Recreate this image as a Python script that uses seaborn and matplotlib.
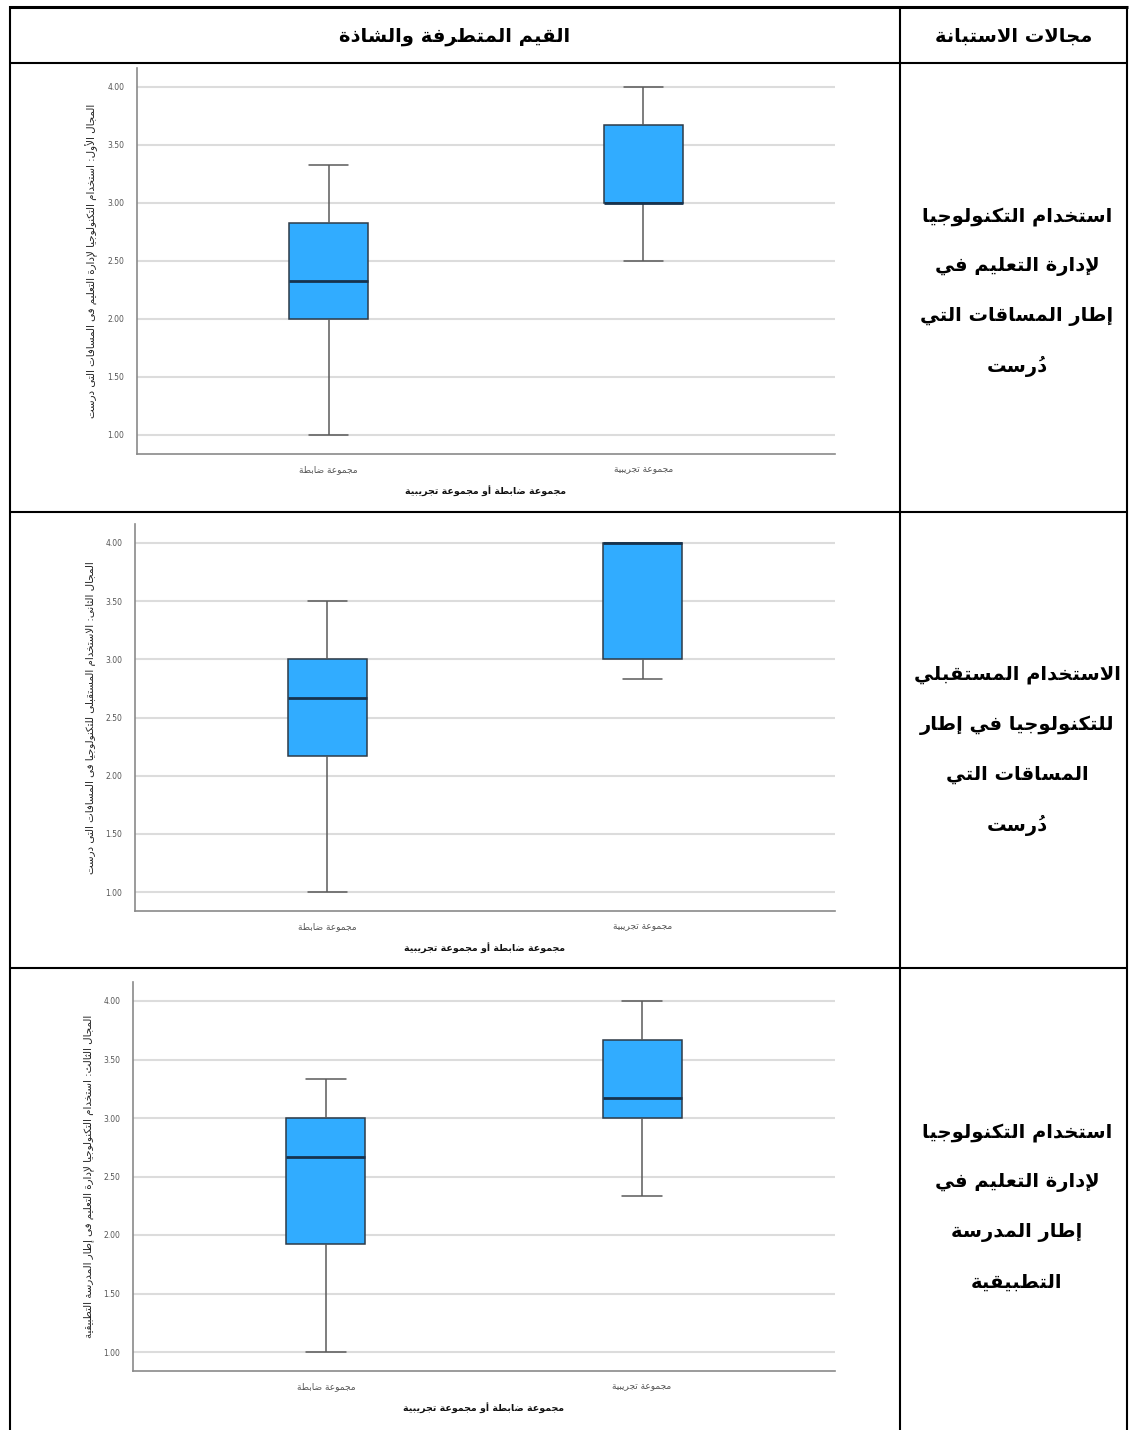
"""Boxplots of the three questionnaire domains inside an Arabic two-column table."""

import matplotlib
matplotlib.use("Agg")
import matplotlib.pyplot as plt
import pandas as pd
import seaborn as sns

W, H = 1137, 1430

GROUPS = ["مجموعة ضابطة", "مجموعة تجريبية"]
X_TITLE = "مجموعة ضابطة أو مجموعة تجريبية"
HEADER_LEFT = "القيم المتطرفة والشاذة"
HEADER_RIGHT = "مجالات الاستبانة"

Y_LABELS = [
    "المجال الأول: استخدام التكنولوجيا لإدارة التعليم فى المسافات التى درست",
    "المجال الثانى: الاستخدام المستقبلى للتكنولوجيا فى المسافات التى درست",
    "المجال الثالث: استخدام التكنولوجيا لإدارة التعليم فى إطار المدرسة التطبيقية",
]
ROW_TEXT = [
    ["استخدام التكنولوجيا", "لإدارة التعليم في", "إطار المساقات التي", "دُرست"],
    ["الاستخدام المستقبلي", "للتكنولوجيا في إطار", "المساقات التي", "دُرست"],
    ["استخدام التكنولوجيا", "لإدارة التعليم في", "إطار المدرسة", "التطبيقية"],
]

# five-number summaries: min, Q1, median, Q3, max
CONTROL_1 = [1.00, 2.00, 2.33, 2.83, 3.33]
EXPER_1 = [2.50, 3.00, 3.00, 3.67, 4.00]
CONTROL_2 = [1.00, 2.17, 2.67, 3.00, 3.50]
EXPER_2 = [2.83, 3.00, 4.00, 4.00, 4.00]
CONTROL_3 = [1.00, 1.92, 2.67, 3.00, 3.33]
EXPER_3 = [2.33, 3.00, 3.17, 3.67, 4.00]
Y_TICKS = [1.0, 1.5, 2.0, 2.5, 3.0, 3.5, 4.0]

BOX_BLUE = "#31acff"

# --- tiny arabic shaper (no arabic_reshaper in the sandbox) ---
_AR = {
    "ء": (0xFE80, 1), "آ": (0xFE81, 2), "أ": (0xFE83, 2), "ؤ": (0xFE85, 2),
    "إ": (0xFE87, 2), "ئ": (0xFE89, 4), "ا": (0xFE8D, 2), "ب": (0xFE8F, 4),
    "ة": (0xFE93, 2), "ت": (0xFE95, 4), "ث": (0xFE99, 4), "ج": (0xFE9D, 4),
    "ح": (0xFEA1, 4), "خ": (0xFEA5, 4), "د": (0xFEA9, 2), "ذ": (0xFEAB, 2),
    "ر": (0xFEAD, 2), "ز": (0xFEAF, 2), "س": (0xFEB1, 4), "ش": (0xFEB5, 4),
    "ص": (0xFEB9, 4), "ض": (0xFEBD, 4), "ط": (0xFEC1, 4), "ظ": (0xFEC5, 4),
    "ع": (0xFEC9, 4), "غ": (0xFECD, 4), "ف": (0xFED1, 4), "ق": (0xFED5, 4),
    "ك": (0xFED9, 4), "ل": (0xFEDD, 4), "م": (0xFEE1, 4), "ن": (0xFEE5, 4),
    "ه": (0xFEE9, 4), "و": (0xFEED, 2), "ى": (0xFEEF, 2), "ي": (0xFEF1, 4),
}
_LAM_ALEF = {"آ": 0xFEF5, "أ": 0xFEF7, "إ": 0xFEF9, "ا": 0xFEFB}
_MARKS = set(chr(c) for c in range(0x064B, 0x0653))


def ar(text):
    items = []
    i = 0
    while i < len(text):
        c = text[i]
        if c in _MARKS and items:
            items[-1][1] += c
        elif c == "ل" and i + 1 < len(text) and text[i + 1] in _LAM_ALEF:
            items.append([("LA", text[i + 1]), ""])
            i += 1
        else:
            items.append([c, ""])
        i += 1

    def joins_next(b):
        return isinstance(b, str) and b in _AR and _AR[b][1] == 4

    def is_letter(b):
        return isinstance(b, tuple) or (b in _AR and _AR[b][1] > 1)

    out = []
    for k, (b, marks) in enumerate(items):
        prev = items[k - 1][0] if k > 0 else None
        nxt = items[k + 1][0] if k + 1 < len(items) else None
        pj = prev is not None and joins_next(prev)
        if isinstance(b, tuple):
            g = chr(_LAM_ALEF[b[1]] + (1 if pj else 0))
        elif b in _AR:
            start, nf = _AR[b]
            nj = nf == 4 and nxt is not None and is_letter(nxt)
            if nf == 1:
                idx = 0
            elif pj and nj:
                idx = 3
            elif pj:
                idx = 1
            elif nj:
                idx = 2
            else:
                idx = 0
            g = chr(start + idx)
        else:
            g = b
        # mark goes before its base in visual order so it lands over it
        out.append(marks + g)
    return "".join(reversed(out))


def px_rect(left, right, top, bottom):
    return [left / W, 1 - bottom / H, (right - left) / W, (bottom - top) / H]


def draw_chart(ax, control, exper, ylabel):
    labels = [ar(g) for g in GROUPS]
    df = pd.DataFrame({
        "group": [labels[0]] * len(control) + [labels[1]] * len(exper),
        "value": control + exper,
    })
    sns.boxplot(
        data=df, x="group", y="value", order=labels, ax=ax,
        width=0.25, whis=(0, 100), color=BOX_BLUE, saturation=1,
        linecolor="#5a5a5a", linewidth=1.1, showfliers=False,
        boxprops=dict(edgecolor="#2e3b48", linewidth=1.1),
        medianprops=dict(color="#17324d", linewidth=2.0),
    )
    ax.set_xlim(-0.61, 1.61)
    ax.set_ylim(0.84, 4.16)
    ax.set_yticks(Y_TICKS)
    ax.set_yticklabels([f"{v:.2f}" for v in Y_TICKS])
    ax.yaxis.grid(True, color="#dcdcdc", linewidth=1.5)
    ax.set_axisbelow(True)
    for s in ["top", "right"]:
        ax.spines[s].set_visible(False)
    for s in ["left", "bottom"]:
        ax.spines[s].set_color("#8a8a8a")
        ax.spines[s].set_linewidth(1.2)
    ax.tick_params(axis="y", length=0, pad=9, labelsize=5.5, labelcolor="#555555")
    ax.tick_params(axis="x", length=0, pad=8, labelsize=6.5, labelcolor="#555555")
    ax.set_xlabel(ar(X_TITLE), fontsize=6.8, fontweight="bold", color="#111111",
                  labelpad=8)
    ax.set_ylabel(ar(ylabel), fontsize=7.4, color="#222222", labelpad=7)


def main():
    sns.set_style("white")
    plt.rcParams["font.family"] = ["DejaVu Sans"]
    plt.rcParams["text.color"] = "black"

    fig = plt.figure(figsize=(W / 100, H / 100), dpi=100)

    # table frame
    tab = fig.add_axes([0, 0, 1, 1], zorder=-1)
    tab.set_xlim(0, W)
    tab.set_ylim(H, 0)
    tab.axis("off")
    tab.hlines(7, 9, 1128, color="black", linewidth=2.2)
    tab.hlines([63, 512, 968], 9, 1128, color="black", linewidth=1.5)
    tab.vlines([10, 900, 1127], 6, H, color="black", linewidth=1.5)

    tab.text(455, 36, ar(HEADER_LEFT), ha="center", va="center",
             fontsize=14, fontweight="bold", color="black")
    tab.text(1014, 36, ar(HEADER_RIGHT), ha="center", va="center",
             fontsize=14, fontweight="bold", color="black")

    centers = [291, 750, 1207]
    for lines, cy in zip(ROW_TEXT, centers):
        n = len(lines)
        for i, line in enumerate(lines):
            tab.text(1017, cy + (i - (n - 1) / 2) * 50, ar(line), ha="center",
                     va="center", fontsize=14, fontweight="bold", color="black")

    # charts: pixel position of the 4.00 gridline and 1.00 gridline
    layout = [(137, 87, 435), (135, 543, 892), (133, 1001, 1352)]
    data = [(CONTROL_1, EXPER_1), (CONTROL_2, EXPER_2), (CONTROL_3, EXPER_3)]
    for (left, y4, y1), (c, e), yl in zip(layout, data, Y_LABELS):
        unit = (y1 - y4) / 3
        top = y4 - 0.16 * unit
        bottom = y1 + 0.16 * unit
        ax = fig.add_axes(px_rect(left, 835, top, bottom))
        draw_chart(ax, c, e, yl)

    fig.savefig("out.png", dpi=100)
    plt.close(fig)


if __name__ == "__main__":
    main()
